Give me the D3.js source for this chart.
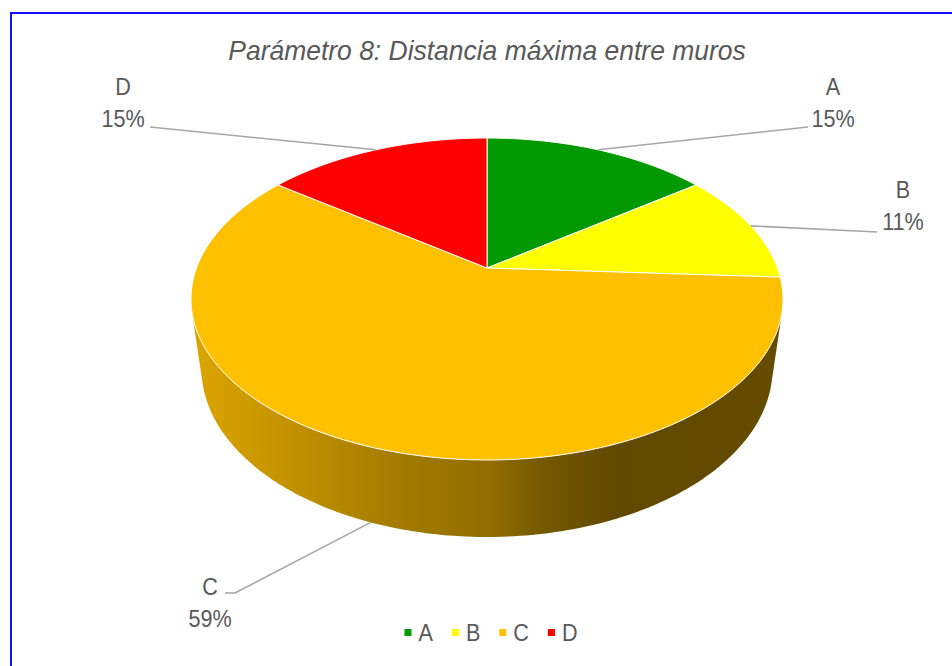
<!DOCTYPE html>
<html>
<head>
<meta charset="utf-8">
<script src="https://cdn.jsdelivr.net/npm/d3@7"></script>
<style>
body { margin: 0; background: #fff; }
text { font-family: "Liberation Sans", Arial, sans-serif; fill: #595959; }
</style>
</head>
<body>
<svg id="chart" width="952" height="666"></svg>
<script>
// data (27 answers in total)
var categories = ["A", "B", "C", "D"];
var counts = [4, 3, 16, 4];
var title = "Parámetro 8: Distancia máxima entre muros";

// styles / layout
var colors = ["#009900", "#ffff00", "#ffc000", "#ff0000"];
// label anchor points (where the leader line ends, next to the text)
var labelLayout = [
	{ tx: 833, ty: 95, lx: 808, ly: 127 },
	{ tx: 903, ty: 198, lx: 877, ly: 232 },
	{ tx: 210, ty: 595, lx: 235, ly: 593, hook: 225 },
	{ tx: 123, ty: 95, lx: 150, ly: 127 }
];

var svg = d3.select("#chart");
var color = d3.scaleOrdinal(categories, colors);
var pct = d3.format(".0%");
var total = d3.sum(counts);

// frame (right and bottom edge fall outside the picture)
svg.append("rect")
	.attr("x", 11).attr("y", 13)
	.attr("width", 1000).attr("height", 700)
	.attr("fill", "none")
	.attr("stroke", "#1010ff")
	.attr("stroke-width", 2);

svg.append("text")
	.attr("transform", "translate(487,60) scale(0.98,1)")
	.attr("text-anchor", "middle")
	.style("font-size", "27px")
	.style("font-style", "italic")
	.text(title);

// --- 3D pie projection ---------------------------------------------------
// camera looking down at the disc with perspective; units of the disc radius
var cx = 487, cy = 268;
var tilt = 32.25 * Math.PI / 180;
var dist = 4.392;          // camera distance / radius
var focal = 1275.8;        // px
var thick = 0.292;         // height / radius

function project(a, z) {
	// a : d3 angle (clockwise from 12 o'clock), z : 0 top face, 1 bottom
	var X = Math.sin(a), Y = Math.cos(a), Z = -z * thick;
	var depth = dist + Y * Math.cos(tilt) - Z * Math.sin(tilt);
	var sy = Y * Math.sin(tilt) + Z * Math.cos(tilt);
	return [cx + focal * X / depth, cy - focal * sy / depth];
}
function center() { return [cx, cy]; }

function arcPoints(a0, a1, z) {
	var n = Math.max(2, Math.ceil(Math.abs(a1 - a0) / (Math.PI / 180)));
	return d3.range(n + 1).map(function(i) {
		return project(a0 + (a1 - a0) * i / n, z);
	});
}

var pie = d3.pie().sort(null).value(function(d) { return d; });
var slices = pie(counts);
var line = d3.line();

// side wall is visible only where its outer normal faces the camera
var c0 = 1 / (dist * Math.cos(tilt));
var visFrom = Math.acos(-c0), visTo = 2 * Math.PI - Math.acos(-c0);

var defs = svg.append("defs");

slices.forEach(function(s, i) {
	var a0 = Math.max(s.startAngle, visFrom), a1 = Math.min(s.endAngle, visTo);
	if (a1 <= a0) return;
	var base = d3.color(color(categories[i]));
	var gid = "side" + i;
	var left = project(visTo, 0)[0], right = project(visFrom, 0)[0];
	var g = defs.append("linearGradient").attr("id", gid)
		.attr("gradientUnits", "userSpaceOnUse")
		.attr("x1", left).attr("x2", right).attr("y1", 0).attr("y2", 0);
	[[0, 0.42], [0.18, 0.8], [0.35, 1.25], [0.5, 1.55], [0.6, 2.2], [0.72, 2.75], [1, 2.6]]
		.forEach(function(st) {
			g.append("stop").attr("offset", st[0]).attr("stop-color", base.darker(st[1]).formatHex());
		});
	var pts = arcPoints(a0, a1, 0).concat(arcPoints(a1, a0, 1));
	svg.append("path")
		.attr("d", line(pts) + "Z")
		.attr("fill", "url(#" + gid + ")");
});

slices.forEach(function(s, i) {
	var pts = [center()].concat(arcPoints(s.startAngle, s.endAngle, 0));
	svg.append("path")
		.attr("d", line(pts) + "Z")
		.attr("fill", color(categories[i]))
		.attr("stroke", "#fff")
		.attr("stroke-width", 1)
		.attr("stroke-linejoin", "round");
});

// --- labels with leader lines ---------------------------------------------
slices.forEach(function(s, i) {
	var mid = (s.startAngle + s.endAngle) / 2;
	var lay = labelLayout[i];
	// front slices hang their line from the bottom of the wall
	var anchor = project(mid, Math.cos(mid) < -c0 ? 1 : 0);
	var pts = [anchor, [lay.lx, lay.ly]];
	if (lay.hook) pts.push([lay.hook, lay.ly]);
	svg.append("path")
		.attr("d", line(pts))
		.attr("fill", "none")
		.attr("stroke", "#a6a6a6")
		.attr("stroke-width", 1.6);

	var t = svg.append("text")
		.attr("transform", "translate(" + lay.tx + "," + lay.ty + ") scale(0.9,1)")
		.attr("text-anchor", "middle")
		.style("font-size", "24px");
	t.append("tspan").attr("x", 0).attr("y", 0).text(categories[i]);
	t.append("tspan").attr("x", 0).attr("y", 32).text(pct(s.data / total));
});

// --- legend ------------------------------------------------------------------
var legend = svg.append("g").attr("transform", "translate(0,641)");
var items = legend.selectAll("g").data(categories).join("g");
items.append("rect")
	.attr("y", -12).attr("width", 7).attr("height", 7)
	.attr("fill", function(d) { return color(d); });
items.append("text")
	.attr("x", 14)
	.attr("transform", "scale(0.9,1)")
	.style("font-size", "24px")
	.text(function(d) { return d; });
var x = 0;
items.each(function() {
	var w = this.querySelector("text").getComputedTextLength() * 0.9;
	d3.select(this).attr("data-x", x);
	d3.select(this).select("text").attr("x", 14 / 0.9);
	x += 14 + w + 19;
});
var legendWidth = x - 19;
items.attr("transform", function() {
	return "translate(" + (491 - legendWidth / 2 + (+this.getAttribute("data-x"))) + ",0)";
});
</script>
</body>
</html>
